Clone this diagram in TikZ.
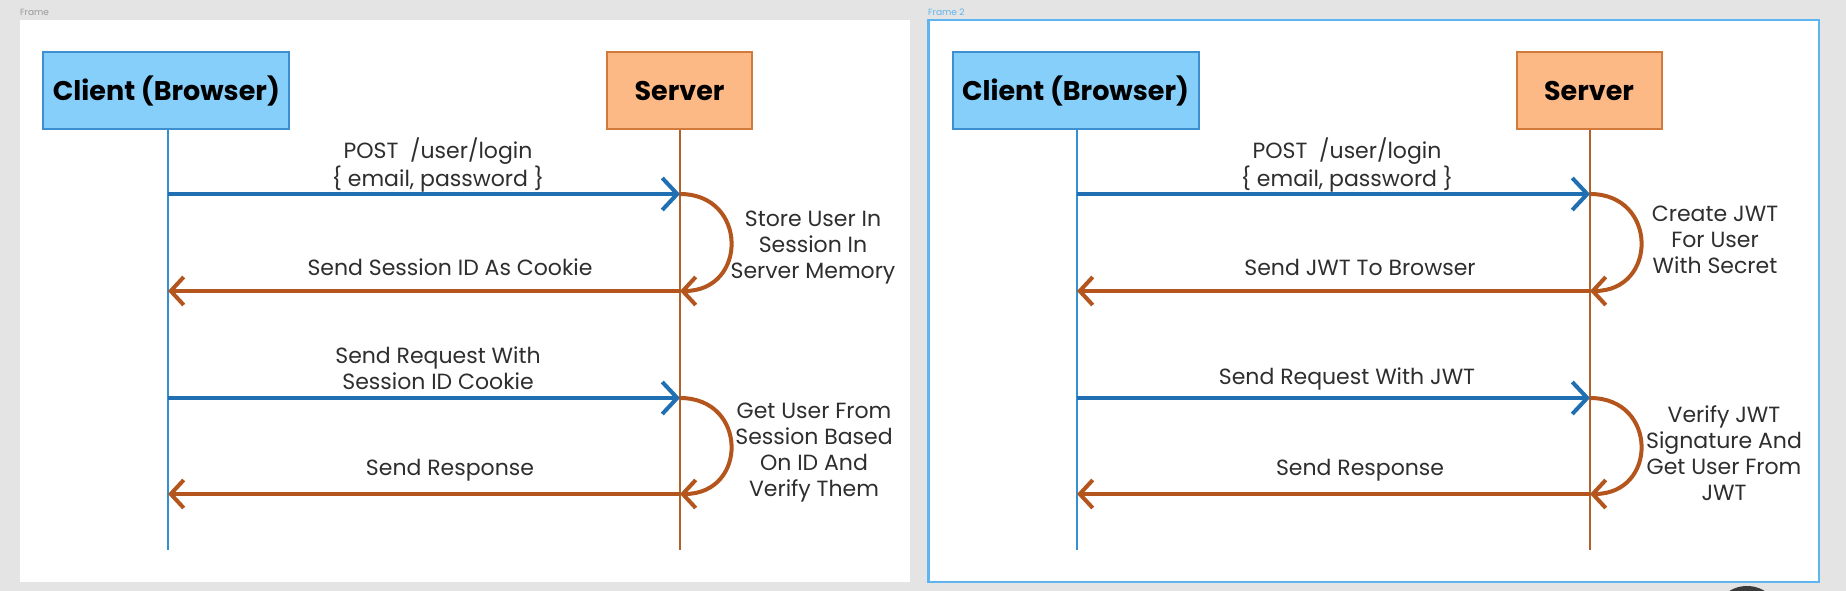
\documentclass[tikz,border=0pt]{standalone}
\usepackage{fontspec}
\setmainfont{Poppins}
\usetikzlibrary{arrows.meta,calc}
\definecolor{bggray}{HTML}{E4E4E4}
\definecolor{clientfill}{HTML}{86CFFB}
\definecolor{clientdraw}{HTML}{3D8FD0}
\definecolor{serverfill}{HTML}{FDB985}
\definecolor{serverdraw}{HTML}{D27A3C}
\definecolor{reqblue}{HTML}{1F6FB2}
\definecolor{resporange}{HTML}{B4551D}
\definecolor{clientlife}{HTML}{3391D3}
\definecolor{serverlife}{HTML}{B0612C}
\definecolor{txtgray}{HTML}{2E2E2E}
\definecolor{framelbl}{HTML}{9A9A9A}
\definecolor{frameblue}{HTML}{5DB4EE}
\definecolor{blobgray}{HTML}{3A3A3A}
\tikzset{
  actor/.style={draw, line width=2pt, inner sep=0pt, font=\fontsize{27}{32}\selectfont\bfseries, text=black},
  clientbox/.style={actor, fill=clientfill, draw=clientdraw, minimum width=246pt, minimum height=77pt},
  serverbox/.style={actor, fill=serverfill, draw=serverdraw, minimum width=145pt, minimum height=77pt},
  clife/.style={draw=clientlife, line width=2pt},
  slife/.style={draw=serverlife, line width=2pt},
  req/.style={draw=reqblue, line width=4pt, -{Straight Barb[length=15pt,width=32pt]}},
  resp/.style={draw=resporange, line width=4pt, -{Straight Barb[length=13pt,width=28pt]}},
  lbl/.style={font=\fontsize{22}{26}\selectfont, text=txtgray, align=center, inner sep=0pt},
  framelabel/.style={font=\fontsize{9}{10}\selectfont, anchor=west, inner sep=0pt}
}
\begin{document}
\begin{tikzpicture}[x=1pt,y=-1pt]
\fill[bggray] (0,0) rectangle (1846,591);
\useasboundingbox (0,0) rectangle (1846,591);
% frames
\fill[white] (19.6,20) rectangle (910,581.7);
\node[framelabel, text=framelbl] (flab1) at (20,12) {Frame};
\fill[white, draw=frameblue, line width=2.5pt] (928.5,20) rectangle (1819,582);
\node[framelabel, text=frameblue] (flab2) at (928,12) {Frame 2};
% ---------------- left panel
\node[clientbox] (lc) at (166.4,90.5) {Client (Browser)};
\node[serverbox] (ls) at (679.5,90.5) {Server};
\coordinate (lcend) at (168,550);
\coordinate (lsend) at (680,550);
\draw[clife] (lc.south -| lcend) -- (lcend);
\draw[slife] (ls.south -| lsend) -- (lsend);
\coordinate (lc1) at (168,194); \coordinate (ls1) at (680,194);
\coordinate (lc2) at (168,291); \coordinate (ls2) at (680,291);
\coordinate (lc3) at (168,398); \coordinate (ls3) at (680,398);
\coordinate (lc4) at (168,494); \coordinate (ls4) at (680,494);
\draw[req] (lc1) -- (ls1);
\draw[resp] (ls1) .. controls ($(ls1)+(68,0)$) and ($(ls2)+(68,0)$) .. (ls2);
\draw[resp] (ls2) -- (lc2);
\draw[req] (lc3) -- (ls3);
\draw[resp] (ls3) .. controls ($(ls3)+(68,0)$) and ($(ls4)+(68,0)$) .. (ls4);
\draw[resp] (ls4) -- (lc4);
\node[lbl] (l1) at (438,165) {POST\ \ /user/login\\\{ email, password \}};
\node[lbl] (l2) at (450,267) {Send Session ID As Cookie};
\node[lbl] (l3) at (813,248) {Store User In\\Session In\\Server Memory};
\node[lbl] (l4) at (438,368) {Send Request With\\Session ID Cookie};
\node[lbl] (l5) at (450,470) {Send Response};
\node[lbl] (l6) at (814,453) {Get User From\\Session Based\\On ID And\\Verify Them};
% ---------------- right panel
\node[clientbox] (rc) at (1075.5,90.5) {Client (Browser)};
\node[serverbox] (rs) at (1589,90.5) {Server};
\coordinate (rcend) at (1077,550);
\coordinate (rsend) at (1590,550);
\draw[clife] (rc.south -| rcend) -- (rcend);
\draw[slife] (rs.south -| rsend) -- (rsend);
\coordinate (rc1) at (1077,194); \coordinate (rs1) at (1590,194);
\coordinate (rc2) at (1077,291); \coordinate (rs2) at (1590,291);
\coordinate (rc3) at (1077,398); \coordinate (rs3) at (1590,398);
\coordinate (rc4) at (1077,494); \coordinate (rs4) at (1590,494);
\draw[req] (rc1) -- (rs1);
\draw[resp] (rs1) .. controls ($(rs1)+(68,0)$) and ($(rs2)+(68,0)$) .. (rs2);
\draw[resp] (rs2) -- (rc2);
\draw[req] (rc3) -- (rs3);
\draw[resp] (rs3) .. controls ($(rs3)+(68,0)$) and ($(rs4)+(68,0)$) .. (rs4);
\draw[resp] (rs4) -- (rc4);
\node[lbl] (r1) at (1347,165) {POST\ \ /user/login\\\{ email, password \}};
\node[lbl] (r2) at (1360,267) {Send JWT To Browser};
\node[lbl] (r3) at (1715,240) {Create JWT\\For User\\With Secret};
\node[lbl] (r4) at (1347,379) {Send Request With JWT};
\node[lbl] (r5) at (1360,470) {Send Response};
\node[lbl] (r6) at (1724,453) {Verify JWT\\Signature And\\Get User From\\JWT};
% blob at the bottom edge
\begin{scope}
\clip (0,0) rectangle (1846,591);
\fill[blobgray] (1747,614) ellipse [x radius=31, y radius=28];
\end{scope}
\end{tikzpicture}
\end{document}
